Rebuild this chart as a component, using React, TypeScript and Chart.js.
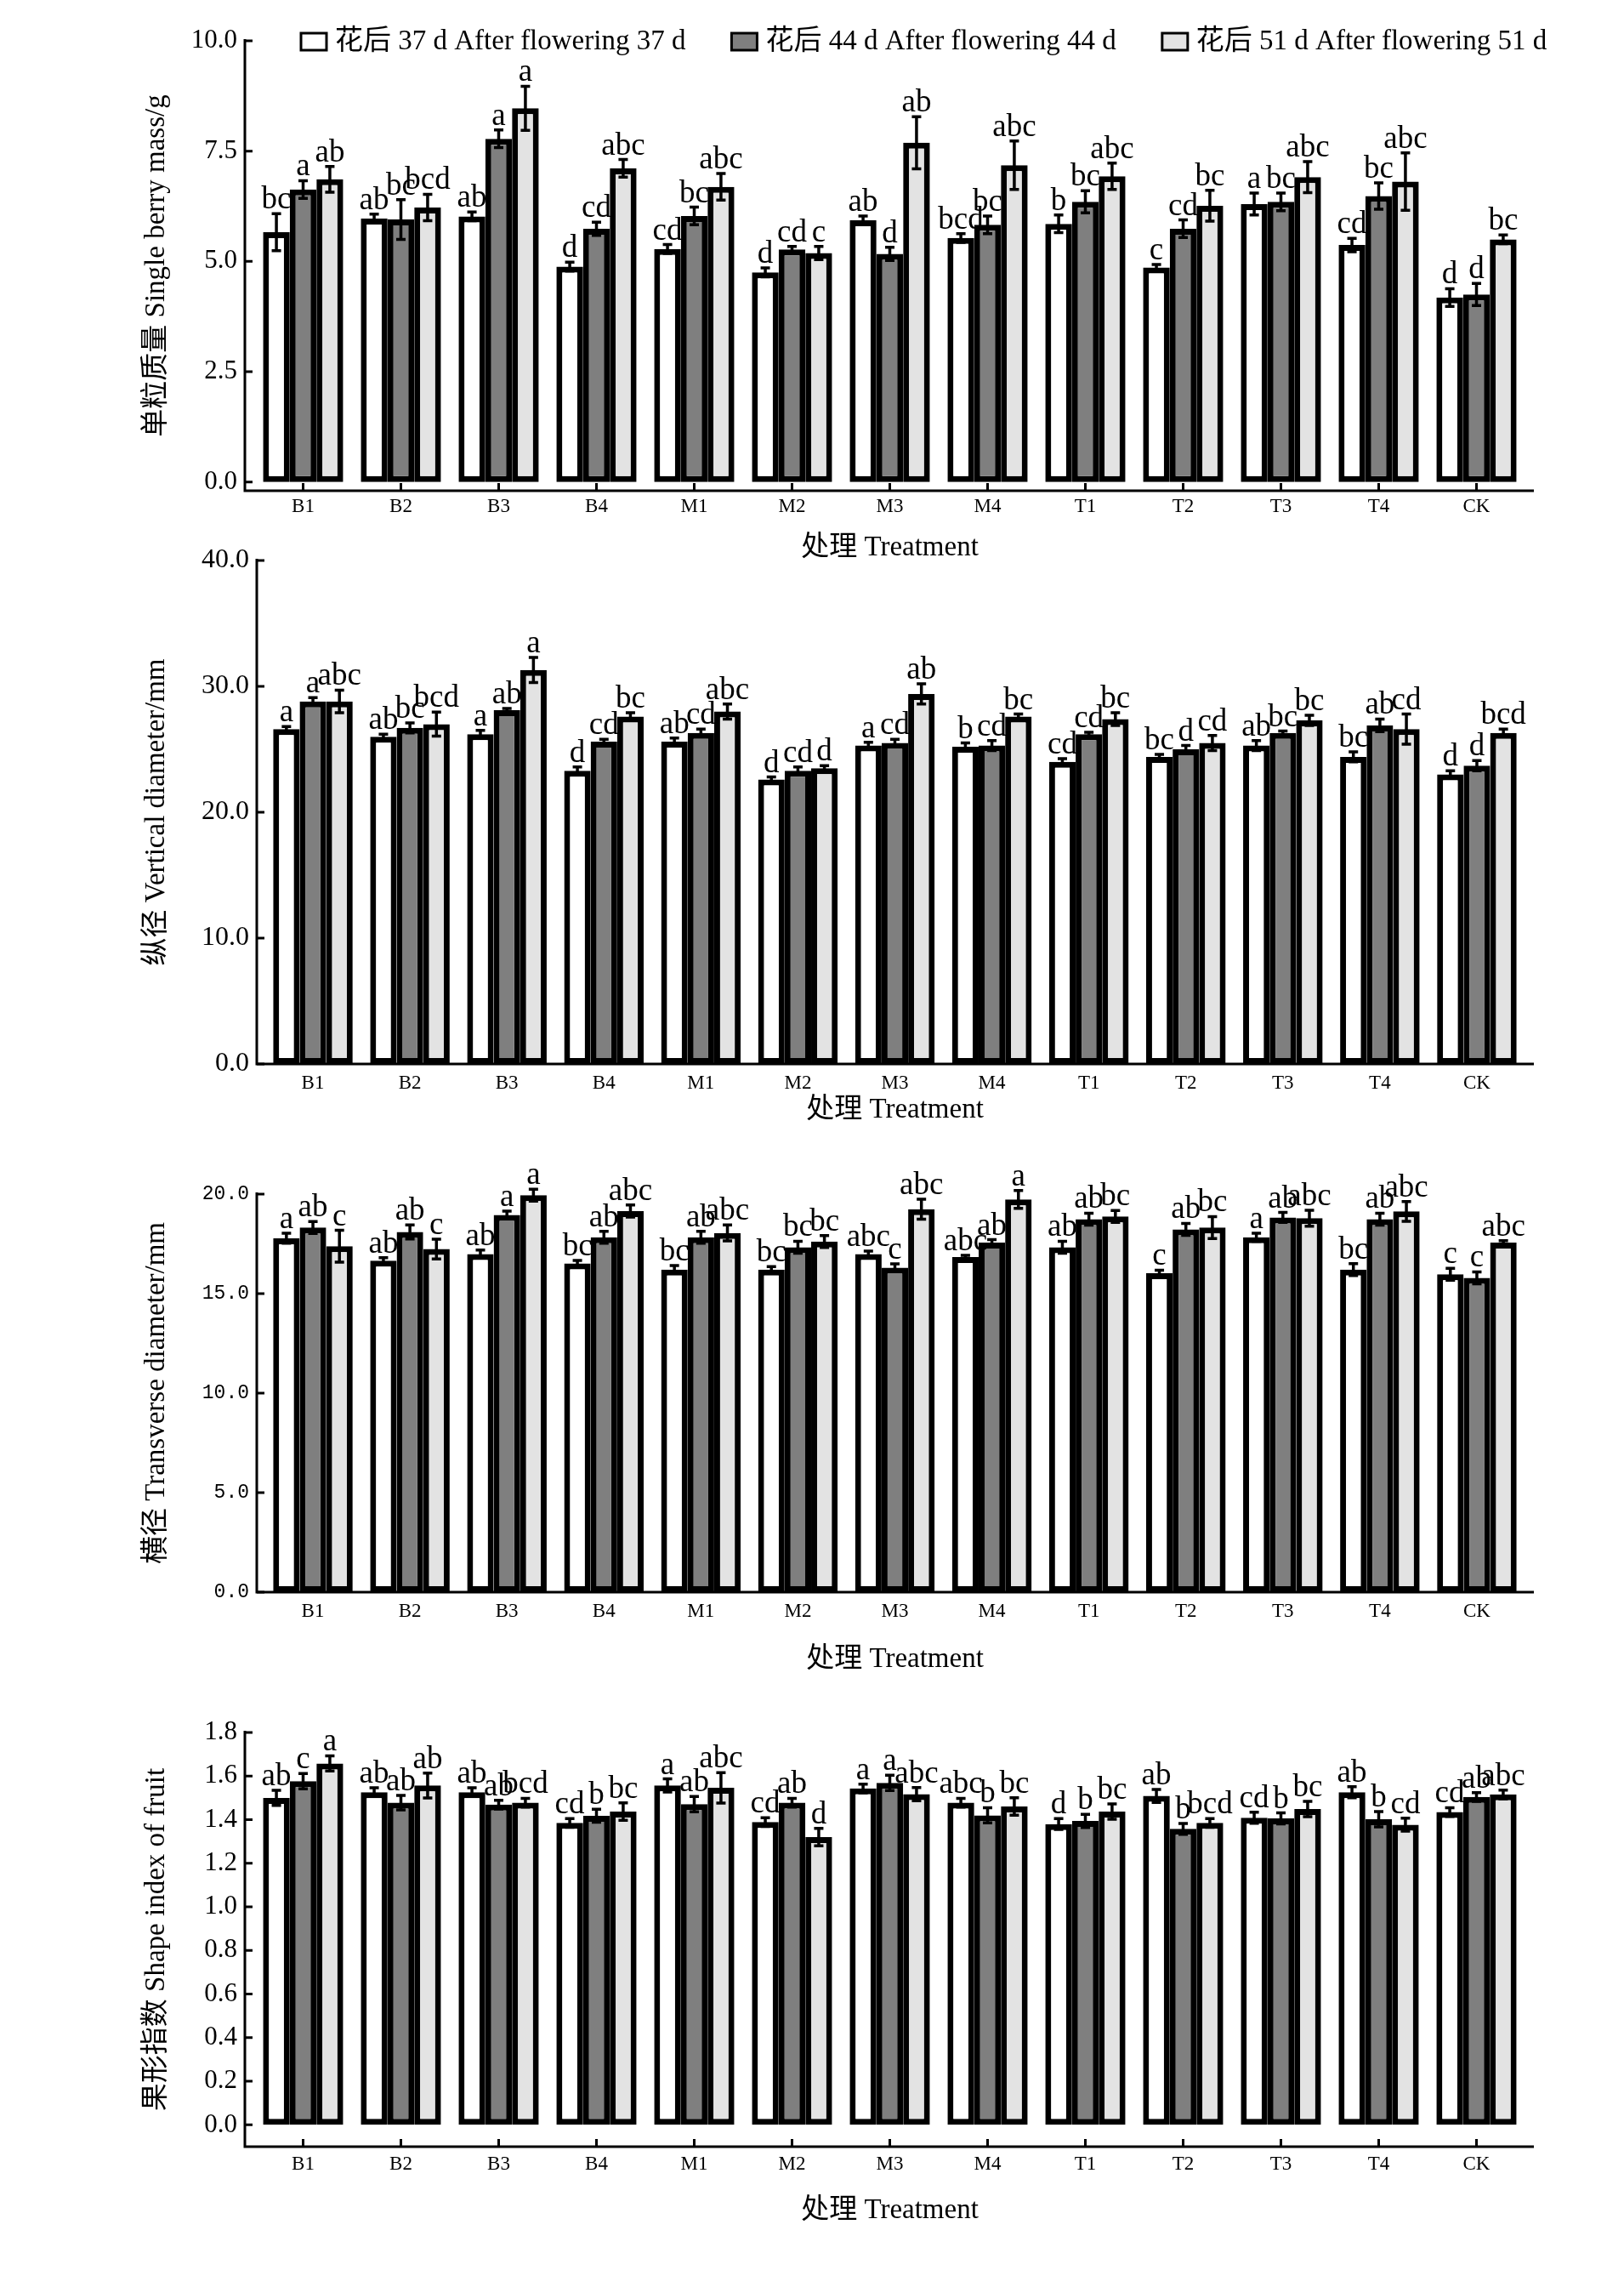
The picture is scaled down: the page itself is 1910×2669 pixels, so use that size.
import React, { useEffect, useRef } from "react";
import { Chart, registerables } from "chart.js";

Chart.register(...registerables);

const SERIF = "'Liberation Serif', 'Noto Sans CJK SC', serif";
const MONO = "'Liberation Mono', monospace";

const categories = ["B1", "B2", "B3", "B4", "M1", "M2", "M3", "M4", "T1", "T2", "T3", "T4", "CK"];
const seriesNames = [
  "花后 37 d After flowering 37 d",
  "花后 44 d After flowering 44 d",
  "花后 51 d After flowering 51 d",
];
const seriesColors = ["#ffffff", "#7f7f7f", "#e3e3e3"];
const xTitle = "处理 Treatment";

// Panel 1: single berry mass
const massD37 = [5.66, 5.97, 6.02, 4.88, 5.28, 4.75, 5.93, 5.53, 5.85, 4.86, 6.3, 5.37, 4.18];
const massD44 = [6.63, 5.95, 7.78, 5.74, 6.03, 5.27, 5.17, 5.83, 6.35, 5.74, 6.35, 6.48, 4.25];
const massD51 = [6.86, 6.22, 8.47, 7.11, 6.69, 5.19, 7.69, 7.18, 6.93, 6.26, 6.91, 6.81, 5.5];
const massErr37 = [0.42, 0.1, 0.1, 0.1, 0.1, 0.1, 0.1, 0.1, 0.2, 0.07, 0.25, 0.15, 0.2];
const massErr44 = [0.2, 0.45, 0.2, 0.15, 0.2, 0.07, 0.15, 0.2, 0.25, 0.2, 0.2, 0.3, 0.25];
const massErr51 = [0.29, 0.3, 0.5, 0.2, 0.3, 0.15, 0.59, 0.55, 0.3, 0.35, 0.35, 0.65, 0.1];
const massLet37 = ["bc", "ab", "ab", "d", "cd", "d", "ab", "bcd", "b", "c", "a", "cd", "d"];
const massLet44 = ["a", "bc", "a", "cd", "bc", "cd", "d", "bc", "bc", "cd", "bc", "bc", "d"];
const massLet51 = ["ab", "bcd", "a", "abc", "abc", "c", "ab", "abc", "abc", "bc", "abc", "abc", "bc"];
const massTicks = [0, 2.5, 5, 7.5, 10];

// Panel 2: vertical diameter
const vertD37 = [26.6, 26.0, 26.2, 23.3, 25.6, 22.6, 25.3, 25.2, 24.0, 24.4, 25.3, 24.4, 23.0];
const vertD44 = [28.8, 26.7, 28.1, 25.6, 26.3, 23.3, 25.5, 25.3, 26.2, 25.0, 26.3, 26.9, 23.7];
const vertD51 = [28.8, 27.0, 31.3, 27.6, 28.0, 23.5, 29.4, 27.6, 27.4, 25.5, 27.3, 26.6, 26.3];
const vertErr37 = [0.2, 0.2, 0.3, 0.3, 0.3, 0.2, 0.25, 0.3, 0.25, 0.2, 0.4, 0.4, 0.3];
const vertErr44 = [0.3, 0.4, 0.15, 0.2, 0.3, 0.3, 0.3, 0.4, 0.15, 0.3, 0.15, 0.5, 0.4];
const vertErr51 = [0.9, 0.95, 1.0, 0.3, 0.6, 0.2, 0.8, 0.2, 0.5, 0.6, 0.4, 1.2, 0.3];
const vertLet37 = ["a", "ab", "a", "d", "ab", "d", "a", "b", "cd", "bc", "ab", "bc", "d"];
const vertLet44 = ["a", "bc", "ab", "cd", "cd", "cd", "cd", "cd", "cd", "d", "bc", "ab", "d"];
const vertLet51 = ["abc", "bcd", "a", "bc", "abc", "d", "ab", "bc", "bc", "cd", "bc", "cd", "bcd"];
const vertTicks = [0, 10, 20, 30, 40];

// Panel 3: transverse diameter
const transD37 = [17.78, 16.66, 16.99, 16.52, 16.21, 16.21, 16.99, 16.84, 17.33, 16.03, 17.83, 16.21, 15.97];
const transD44 = [18.32, 18.1, 18.95, 17.83, 17.83, 17.33, 16.3, 17.56, 18.74, 18.23, 18.83, 18.74, 15.79];
const transD51 = [17.38, 17.24, 19.95, 19.15, 18.05, 17.62, 19.24, 19.73, 18.88, 18.32, 18.79, 19.13, 17.56];
const transErr37 = [0.25, 0.15, 0.2, 0.15, 0.2, 0.15, 0.15, 0.08, 0.3, 0.15, 0.2, 0.3, 0.3];
const transErr44 = [0.3, 0.35, 0.2, 0.3, 0.3, 0.3, 0.2, 0.15, 0.3, 0.3, 0.25, 0.3, 0.3];
const transErr51 = [0.8, 0.5, 0.3, 0.3, 0.4, 0.3, 0.5, 0.45, 0.3, 0.55, 0.4, 0.5, 0.1];
const transLet37 = ["a", "ab", "ab", "bc", "bc", "bc", "abc", "abc", "ab", "c", "a", "bc", "c"];
const transLet44 = ["ab", "ab", "a", "ab", "ab", "bc", "c", "ab", "ab", "ab", "ab", "ab", "c"];
const transLet51 = ["c", "c", "a", "abc", "abc", "bc", "abc", "a", "bc", "bc", "abc", "abc", "abc"];
const transTicks = [0, 5, 10, 15, 20];

// Panel 4: shape index
const shapeD37 = [1.5, 1.526, 1.526, 1.385, 1.557, 1.389, 1.543, 1.478, 1.38, 1.509, 1.409, 1.526, 1.435];
const shapeD44 = [1.577, 1.478, 1.469, 1.418, 1.471, 1.478, 1.569, 1.42, 1.394, 1.358, 1.406, 1.402, 1.504];
const shapeD51 = [1.658, 1.557, 1.478, 1.437, 1.546, 1.32, 1.517, 1.461, 1.437, 1.385, 1.449, 1.377, 1.516];
const shapeErr37 = [0.035, 0.02, 0.02, 0.02, 0.03, 0.02, 0.02, 0.02, 0.025, 0.03, 0.025, 0.025, 0.02];
const shapeErr44 = [0.035, 0.033, 0.02, 0.03, 0.035, 0.02, 0.035, 0.035, 0.03, 0.025, 0.025, 0.035, 0.02];
const shapeErr51 = [0.035, 0.057, 0.02, 0.04, 0.07, 0.04, 0.03, 0.04, 0.035, 0.02, 0.035, 0.03, 0.02];
const shapeLet37 = ["ab", "ab", "ab", "cd", "a", "cd", "a", "abc", "d", "ab", "cd", "ab", "cd"];
const shapeLet44 = ["c", "ab", "ab", "b", "ab", "ab", "a", "b", "b", "b", "b", "b", "ab"];
const shapeLet51 = ["a", "ab", "bcd", "bc", "abc", "d", "abc", "bc", "bc", "bcd", "bc", "cd", "abc"];
const shapeTicks = [0, 0.2, 0.4, 0.6, 0.8, 1.0, 1.2, 1.4, 1.6, 1.8];

const CANVAS_W = 1900;
const CHART_LEFT_PAD = 165;
const CHART_RIGHT = 1794;

type Panel = {
  top: number;
  height: number;
  padTop: number;
  yWidth: number;
  xHeight: number;
  axisGap: number;
  yMin: number;
  yMax: number;
  yTicks: number[];
  tickFont: { family: string; size: number };
  tickPad: number;
  xPad: number;
  yTitle: string;
  values: number[][];
  errors: number[][];
  letters: string[][];
  xTickMarks: boolean;
  legend: boolean;
};

const panels: Panel[] = [
  {
    top: 0, height: 664, padTop: 48, yWidth: 134, xHeight: 87, axisGap: 11,
    yMin: -0.2, yMax: 10, yTicks: massTicks, tickFont: { family: SERIF, size: 31 }, tickPad: 20, xPad: 5,
    yTitle: "单粒质量 Single berry mass/g",
    values: [massD37, massD44, massD51], errors: [massErr37, massErr44, massErr51],
    letters: [massLet37, massLet44, massLet51], xTickMarks: true, legend: true,
  },
  {
    top: 620, height: 705, padTop: 39, yWidth: 146, xHeight: 74, axisGap: 9,
    yMin: 0, yMax: 40, yTicks: vertTicks, tickFont: { family: SERIF, size: 32 }, tickPad: 18, xPad: 9,
    yTitle: "纵径 Vertical diameter/mm",
    values: [vertD37, vertD44, vertD51], errors: [vertErr37, vertErr44, vertErr51],
    letters: [vertLet37, vertLet44, vertLet51], xTickMarks: false, legend: false,
  },
  {
    top: 1325, height: 646, padTop: 79, yWidth: 146, xHeight: 99, axisGap: 9,
    yMin: 0, yMax: 20, yTicks: transTicks, tickFont: { family: MONO, size: 23 }, tickPad: 18, xPad: 9,
    yTitle: "横径 Transverse diameter/mm",
    values: [transD37, transD44, transD51], errors: [transErr37, transErr44, transErr51],
    letters: [transLet37, transLet44, transLet51], xTickMarks: false, legend: false,
  },
  {
    top: 1971, height: 648, padTop: 66, yWidth: 134, xHeight: 95, axisGap: 11,
    yMin: -0.1, yMax: 1.8, yTicks: shapeTicks, tickFont: { family: SERIF, size: 31 }, tickPad: 20, xPad: 7,
    yTitle: "果形指数 Shape index of fruit",
    values: [shapeD37, shapeD44, shapeD51], errors: [shapeErr37, shapeErr44, shapeErr51],
    letters: [shapeLet37, shapeLet44, shapeLet51], xTickMarks: true, legend: false,
  },
];

function makeOverlay(p: Panel, id: string) {
  return {
    id,
    afterDatasetsDraw(chart: any) {
      const { ctx, chartArea } = chart;
      const xs = chart.scales.x;
      const ys = chart.scales.y;
      ctx.save();
      ctx.strokeStyle = "#000";
      ctx.fillStyle = "#000";
      // error bars and letters
      p.values.forEach((vals, di) => {
        const meta = chart.getDatasetMeta(di);
        meta.data.forEach((bar: any, j: number) => {
          const v = vals[j];
          const e = p.errors[di][j];
          const x = bar.x;
          const yT = ys.getPixelForValue(v + e);
          const yB = ys.getPixelForValue(v - e);
          ctx.lineWidth = 3.5;
          ctx.beginPath();
          ctx.moveTo(x, yT);
          ctx.lineTo(x, yB);
          ctx.moveTo(x - 5.5, yT);
          ctx.lineTo(x + 5.5, yT);
          ctx.moveTo(x - 5.5, yB);
          ctx.lineTo(x + 5.5, yB);
          ctx.stroke();
          ctx.font = `37px ${SERIF}`;
          ctx.textAlign = "center";
          ctx.textBaseline = "alphabetic";
          ctx.fillText(p.letters[di][j], x, yT - 6);
        });
      });
      // axes
      const ax = chartArea.left - p.axisGap;
      const by = chartArea.bottom;
      ctx.lineWidth = 3;
      ctx.beginPath();
      ctx.moveTo(ax, chartArea.top - 2);
      ctx.lineTo(ax, by + 1.5);
      ctx.moveTo(ax - 1.5, by);
      ctx.lineTo(chartArea.right + 10, by);
      ctx.stroke();
      // inward y ticks
      ctx.beginPath();
      p.yTicks.forEach((t) => {
        const y = ys.getPixelForValue(t);
        ctx.moveTo(ax, y);
        ctx.lineTo(ax + 9, y);
      });
      ctx.stroke();
      // inward x ticks
      if (p.xTickMarks) {
        ctx.beginPath();
        categories.forEach((_, j) => {
          const x = xs.getPixelForValue(j);
          ctx.moveTo(x, by);
          ctx.lineTo(x, by - 9);
        });
        ctx.stroke();
      }
      // legend
      if (p.legend) {
        const cy = chartArea.top + 1;
        let lx = chartArea.left + 55;
        ctx.font = `33px ${SERIF}`;
        ctx.textAlign = "left";
        ctx.textBaseline = "middle";
        seriesNames.forEach((name, i) => {
          ctx.fillStyle = seriesColors[i];
          ctx.fillRect(lx, cy - 10, 30, 20);
          ctx.lineWidth = 3;
          ctx.strokeRect(lx, cy - 10, 30, 20);
          ctx.fillStyle = "#000";
          ctx.fillText(name, lx + 40, cy);
          lx += 40 + ctx.measureText(name).width + 54;
        });
      }
      ctx.restore();
    },
  };
}

function PanelChart({ p, idx }: { p: Panel; idx: number }) {
  const ref = useRef<HTMLCanvasElement | null>(null);
  useEffect(() => {
    if (!ref.current) return;
    const chart = new Chart(ref.current, {
      type: "bar",
      data: {
        labels: categories,
        datasets: p.values.map((vals, i) => ({
          label: seriesNames[i],
          data: vals,
          backgroundColor: seriesColors[i],
          borderColor: "#000",
          borderWidth: 7,
          borderSkipped: false,
          categoryPercentage: 0.82,
          barPercentage: 1.0,
        })),
      },
      options: {
        responsive: false,
        animation: false,
        events: [],
        layout: {
          padding: { left: CHART_LEFT_PAD, right: CANVAS_W - CHART_RIGHT, top: p.padTop, bottom: 0 },
        },
        plugins: {
          legend: { display: false },
          tooltip: { enabled: false },
        },
        scales: {
          x: {
            type: "category",
            offset: true,
            grid: { display: false, drawTicks: false },
            border: { display: false },
            ticks: {
              color: "#000",
              font: { family: SERIF, size: 23 },
              padding: p.xPad,
              maxRotation: 0,
              autoSkip: false,
            },
            title: {
              display: true,
              text: xTitle,
              color: "#000",
              font: { family: SERIF, size: 33 },
              padding: 0,
            },
            afterFit: (s: any) => {
              s.height = p.xHeight;
            },
          },
          y: {
            type: "linear",
            min: p.yMin,
            max: p.yMax,
            grid: { display: false, drawTicks: false },
            border: { display: false },
            afterBuildTicks: (s: any) => {
              s.ticks = p.yTicks.map((v) => ({ value: v }));
            },
            ticks: {
              color: "#000",
              font: p.tickFont,
              padding: p.tickPad,
              callback: (v: any) => Number(v).toFixed(1),
            },
            title: {
              display: true,
              text: p.yTitle,
              color: "#000",
              font: { family: SERIF, size: 33 },
              padding: 0,
            },
            afterFit: (s: any) => {
              s.width = p.yWidth;
            },
          },
        },
      } as any,
      plugins: [makeOverlay(p, "overlay" + idx)],
    });
    return () => chart.destroy();
  }, [p, idx]);
  return (
    <canvas
      ref={ref}
      width={CANVAS_W}
      height={p.height}
      style={{ position: "absolute", left: 0, top: p.top, width: CANVAS_W, height: p.height }}
    />
  );
}

export default function App() {
  return (
    <div style={{ position: "absolute", left: 0, top: 0, width: CANVAS_W, height: 2669, background: "#fff" }}>
      {panels.map((p, i) => (
        <PanelChart key={i} p={p} idx={i} />
      ))}
    </div>
  );
}
